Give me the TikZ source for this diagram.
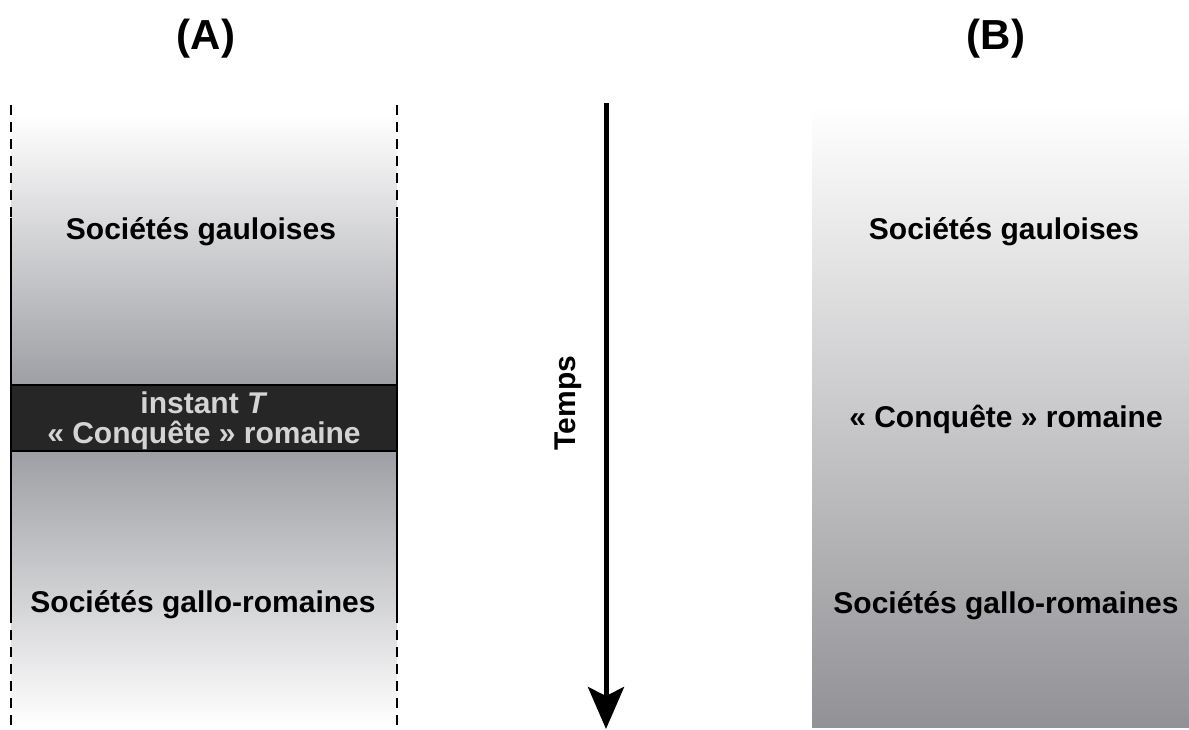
\documentclass[tikz,border=0pt]{standalone}
\usepackage{fontspec}
\setmainfont{Liberation Sans}
\usetikzlibrary{arrows.meta}
\definecolor{bandgray}{RGB}{158,159,164}
\definecolor{bandblack}{RGB}{38,38,38}
\definecolor{bandtext}{RGB}{212,212,212}
\definecolor{bbottom}{RGB}{146,146,150}
\definecolor{bmid}{RGB}{214,214,217}
\tikzset{
  lbl/.style={font=\fontsize{30}{30}\selectfont\bfseries, inner sep=0pt, anchor=base},
  ttl/.style={font=\fontsize{42}{42}\selectfont\bfseries, inner sep=0pt, anchor=base},
  edgedash/.style={line width=2.5pt, dash pattern=on 10pt off 7pt},
  edgesolid/.style={line width=2.5pt},
}
\begin{document}
\begin{tikzpicture}[x=1pt,y=-1pt]
\useasboundingbox (0,0) rectangle (1189,729);
% ---------- Column A ----------
\shade[top color=white, bottom color=bandgray] (11,115) rectangle (397,385);
\shade[top color=bandgray, bottom color=white] (11,450) rectangle (397,727);
\draw[edgedash] (11,105) -- (11,218);
\draw[edgedash] (397,105) -- (397,218);
\draw[edgesolid] (11,218) -- (11,623);
\draw[edgesolid] (397,218) -- (397,623);
\draw[edgedash] (11,630) -- (11,727);
\draw[edgedash] (397,630) -- (397,727);
\node[draw=black, line width=2pt, fill=bandblack, minimum width=386pt, minimum height=66pt, inner sep=0pt] (band) at (204,417.5) {};
\node[lbl, text=bandtext] (instant) at (204,413) {instant \textit{T}};
\node[lbl, text=bandtext] (conqA) at (204,443) {« Conquête » romaine};
\node[lbl] (gaulA) at (201,239) {Sociétés gauloises};
\node[lbl] (galloA) at (203,612) {Sociétés gallo-romaines};
\node[ttl] (titA) at (206,49) {(A)};
% ---------- Time arrow ----------
\coordinate (ttop) at (606,103);
\coordinate (tbot) at (606,729);
\draw[line width=5pt, -{Stealth[length=42pt,width=36pt,inset=9pt]}] (ttop) -- (tbot);
\node[lbl, anchor=center, rotate=90] (temps) at (568,403) {Temps};
% ---------- Column B ----------
\shade[top color=white, middle color=bmid, bottom color=bbottom] (812,105) rectangle (1189,727);
\node[lbl] (gaulB) at (1004,239) {Sociétés gauloises};
\node[lbl] (conqB) at (1006,427) {« Conquête » romaine};
\node[lbl] (galloB) at (1006,613) {Sociétés gallo-romaines};
\node[ttl] (titB) at (996,49) {(B)};
\end{tikzpicture}
\end{document}
